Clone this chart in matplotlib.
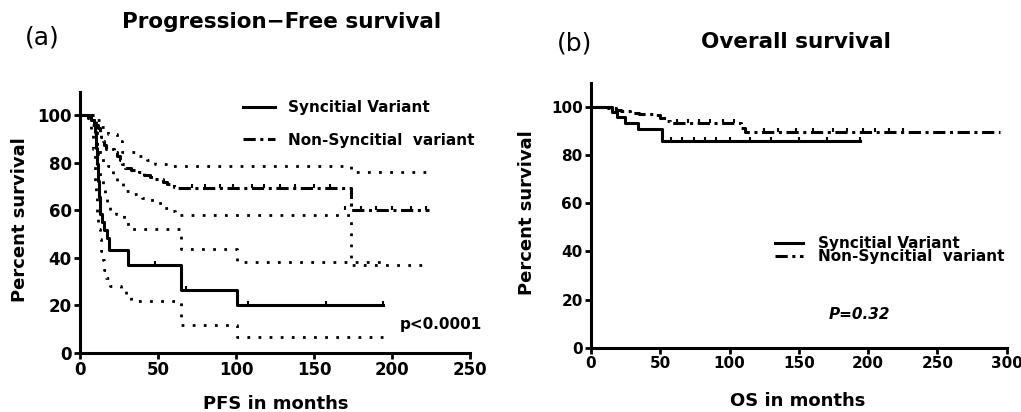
import matplotlib
matplotlib.use("Agg")
import matplotlib.pyplot as plt

# ---- PFS (panel a) ----
pfs_syn_t = [0, 7, 9, 9.8, 10.2, 10.5, 10.8, 11.1, 11.4, 11.7, 12, 12.3, 12.6, 13,
             14, 15.5, 17, 18.5, 31, 64.5, 100.5, 194]
pfs_syn_s = [100, 98, 96.6, 93, 89.6, 86.2, 82.8, 79.3, 75.9, 72.4, 69, 65.5, 62.1, 58.6,
             55.2, 51.7, 48.3, 43.2, 37, 26.5, 20, 20]
pfs_syn_lo_t = [0, 7, 8.5, 9.3, 9.8, 10.3, 10.7, 11.5, 12.5, 13.5, 14.5, 15.5, 16.7, 19,
                26, 29.5, 33, 64.5, 100.5, 194]
pfs_syn_lo_s = [100, 93, 86, 79, 72, 65, 57, 52, 47.7, 42.7, 39.2, 35, 31.4, 28,
                27.2, 24.4, 21.8, 11.6, 6.7, 6.7]
pfs_syn_hi_t = [0, 9.5, 10.2, 10.7, 11.2, 11.7, 13, 14.5, 16, 17.5, 19.5, 23, 28, 31,
                64.5, 100.5, 194]
pfs_syn_hi_s = [100, 99, 95, 90, 84, 77, 73, 70, 66.7, 63, 60, 58.3, 56.1, 52.2,
                43.7, 38.2, 38.2]
pfs_syn_cens_t = [48, 68, 108, 158, 194]
pfs_syn_cens_s = [37, 26.5, 20, 20, 20]

pfs_ns_t = [0, 5.3, 7.5, 9, 10.5, 11.5, 12.5, 13.5, 14.5, 15.5, 16.5, 22, 24, 25.5, 27,
            29, 33, 38, 41, 45, 48, 53, 56, 60, 63, 174, 224]
pfs_ns_s = [100, 99, 98, 97, 96, 94.5, 93, 91, 89, 87.5, 86, 84.5, 83, 81, 79.5,
            78, 77, 76, 75, 74, 73, 72, 71, 70, 69.3, 60.2, 60.2]
pfs_ns_hi_t = [0, 8, 10, 12.8, 18, 23.5, 26.7, 38, 43, 48, 58, 174, 222]
pfs_ns_hi_s = [100, 100, 98, 95, 92, 89, 84.5, 83, 81, 79.5, 78.5, 76.3, 76.3]
pfs_ns_lo_t = [0, 7, 9, 11, 13, 14.9, 18, 21.3, 24, 27.7, 32, 39.5, 45.9, 52.3, 58.7,
               61, 174, 222]
pfs_ns_lo_s = [100, 96, 92, 87, 83, 80.2, 78.8, 75.2, 72, 68.1, 66.7, 65.3, 63.2, 61,
               59.7, 57.8, 37, 37]
pfs_ns_cens_t = [72, 80, 90, 98, 110, 118, 128, 138, 150, 160, 170, 180, 190, 200, 212, 222]
pfs_ns_cens_s = [69.3] * 10 + [60.2] * 6

# ---- OS (panel b) ----
os_syn_t = [0, 15, 19, 24.5, 34, 51, 194]
os_syn_s = [100, 97.8, 95.6, 93.3, 90.6, 86, 86]
os_syn_cens_t = [58, 66, 74, 82, 90, 100, 115, 130, 150, 170, 194]
os_syn_cens_s = [86] * 11

os_ns_t = [0, 12, 18, 22, 28, 35, 45, 50, 54, 57, 108, 111, 295]
os_ns_s = [100, 99.4, 98.8, 98.2, 97.6, 97, 96.4, 95.2, 94, 93.3, 91.2, 89.6, 89.6]
os_ns_cens_t = [62, 70, 78, 86, 95, 103, 125, 135, 148, 160, 175, 185, 196, 205, 215, 225]
os_ns_cens_s = [93.3] * 6 + [89.6] * 10

labels = ["Syncitial Variant", "Non-Syncitial  variant"]

W, H = 1021, 412
fig = plt.figure(figsize=(W / 100, H / 100), dpi=100)

dotted = (0, (1, 3))
dashdot = (0, (4, 1.5, 1, 1.5))
LW = 2.2


def style_axes(ax, xmax, tsize):
    ax.set_xlim(0, xmax)
    ax.set_ylim(0, 110)
    ax.set_yticks([0, 20, 40, 60, 80, 100])
    ax.set_xticks(range(0, xmax + 1, 50))
    for s in ["top", "right"]:
        ax.spines[s].set_visible(False)
    for s in ["left", "bottom"]:
        ax.spines[s].set_linewidth(2.2)
    ax.tick_params(direction="out", length=4, width=2, labelsize=tsize, pad=2)
    for lab in ax.get_xticklabels() + ax.get_yticklabels():
        lab.set_fontweight("bold")


# panel a
axa = fig.add_axes([80 / W, 1 - 352.5 / H, 390 / W, 260.8 / H])
style_axes(axa, 250, 12)
la, = axa.step(pfs_syn_t, pfs_syn_s, where="post", color="black", lw=LW, clip_on=False)
lb, = axa.step(pfs_ns_t, pfs_ns_s, where="post", color="black", lw=LW, ls=dashdot, clip_on=False)
for t, s in [(pfs_syn_lo_t, pfs_syn_lo_s), (pfs_syn_hi_t, pfs_syn_hi_s),
             (pfs_ns_lo_t, pfs_ns_lo_s), (pfs_ns_hi_t, pfs_ns_hi_s)]:
    axa.step(t, s, where="post", color="black", lw=2.0, ls=dotted, clip_on=False)
axa.plot(pfs_syn_cens_t, pfs_syn_cens_s, ls="none", marker=2, ms=3, mew=1.5, color="black")
axa.plot(pfs_ns_cens_t, pfs_ns_cens_s, ls="none", marker=2, ms=3, mew=1.5, color="black")
axa.set_xlabel("PFS in months", fontsize=13, fontweight="bold")
axa.set_ylabel("Percent survival", fontsize=13, fontweight="bold")
axa.xaxis.set_label_coords(0.5026, -0.163)
axa.yaxis.set_label_coords(-0.131, 0.508)
axa.text(1.031, 0.109, "p<0.0001", transform=axa.transAxes, ha="right", va="center",
         fontsize=11, fontweight="bold")
fig.legend([la, lb], labels, loc="upper left", bbox_to_anchor=(243 / W, 1 - 100 / H),
           frameon=False, borderpad=0, borderaxespad=0, handlelength=2.1,
           handletextpad=0.85, labelspacing=1.15,
           prop={"size": 11, "weight": "bold"})

# panel b
axb = fig.add_axes([591 / W, 1 - 347.7 / H, 415.7 / W, 265 / H])
style_axes(axb, 300, 11)
lc, = axb.step(os_syn_t, os_syn_s, where="post", color="black", lw=LW, clip_on=False)
ld, = axb.step(os_ns_t, os_ns_s, where="post", color="black", lw=LW, ls=dashdot, clip_on=False)
axb.plot(os_syn_cens_t, os_syn_cens_s, ls="none", marker=2, ms=3, mew=1.5, color="black")
axb.plot(os_ns_cens_t, os_ns_cens_s, ls="none", marker=2, ms=3, mew=1.5, color="black")
axb.set_xlabel("OS in months", fontsize=13, fontweight="bold")
axb.set_ylabel("Percent survival", fontsize=13, fontweight="bold")
axb.xaxis.set_label_coords(0.498, -0.168)
axb.yaxis.set_label_coords(-0.132, 0.508)
axb.text(0.645, 0.126, "P=0.32", transform=axb.transAxes, ha="center", va="center",
         fontsize=11, fontweight="bold", fontstyle="italic")
fig.legend([lc, ld], labels, loc="upper left", bbox_to_anchor=(775 / W, 1 - 236 / H),
           frameon=False, borderpad=0, borderaxespad=0, handlelength=1.8,
           handletextpad=1.0, labelspacing=-0.1,
           prop={"size": 11, "weight": "bold"})

# titles
fig.text(281.5 / W, 1 - 22 / H, "Progression\u2212Free survival", ha="center", va="center",
         fontsize=15.5, fontweight="bold")
fig.text(796 / W, 1 - 42 / H, "Overall survival", ha="center", va="center",
         fontsize=15.5, fontweight="bold")
fig.text(42 / W, 1 - 37 / H, "(a)", ha="center", va="center", fontsize=18)
fig.text(575 / W, 1 - 44 / H, "(b)", ha="center", va="center", fontsize=18)

fig.savefig("out.png", dpi=100)
